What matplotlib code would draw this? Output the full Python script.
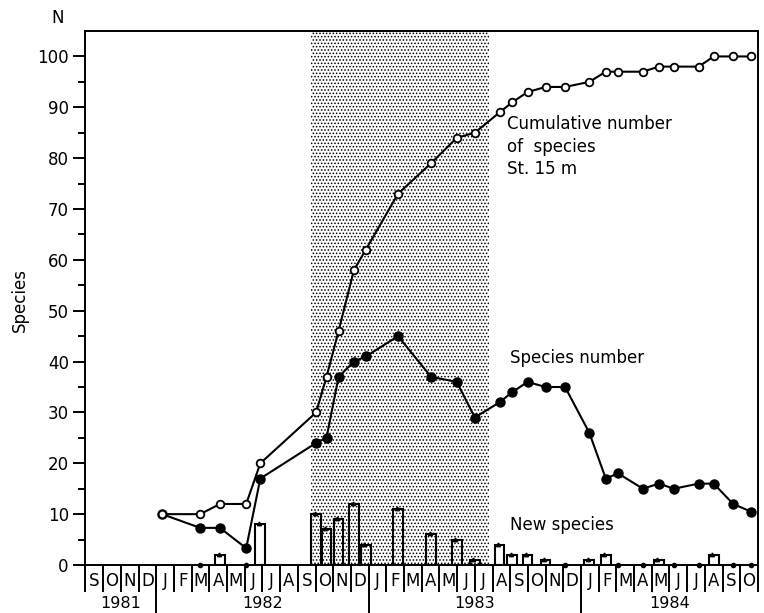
import numpy as np
import matplotlib.pyplot as plt

# month strip under the axis, Sept 1981 .. Oct 1984
months = ['S', 'O', 'N', 'D',
          'J', 'F', 'M', 'A', 'M', 'J', 'J', 'A', 'S', 'O', 'N', 'D',
          'J', 'F', 'M', 'A', 'M', 'J', 'J', 'A', 'S', 'O', 'N', 'D',
          'J', 'F', 'M', 'A', 'M', 'J', 'J', 'A', 'S', 'O']
years = ['1981', '1982', '1983', '1984']
months_per_year = [4, 12, 12, 10]

# sampling dates in months after 1 Sept 1981
sample_month = [4.33, 6.48, 7.6, 9.08, 9.88, 13.03, 13.62, 14.3, 15.17, 15.84,
                17.66, 19.53, 20.98, 22.0, 23.4, 24.12, 24.98, 26.0, 27.1, 28.47,
                29.4, 30.1, 31.5, 32.4, 33.25, 34.65, 35.5, 36.6, 37.6]
cumulative = [10, 10, 12, 12, 20, 30, 37, 46, 58, 62,
              73, 79, 84, 85, 89, 91, 93, 94, 94, 95,
              97, 97, 97, 98, 98, 98, 100, 100, 100]
species_number = [10, 7.3, 7.3, 3.3, 17, 24, 25, 37, 40, 41,
                  45, 37, 36, 29, 32, 34, 36, 35, 35, 26,
                  17, 18, 15, 16, 15, 16, 16, 12, 10.5]
new_species = [np.nan, 0, 2, 0, 8, 10, 7, 9, 12, 4,
               11, 6, 5, 1, 4, 2, 2, 1, 0, 1,
               2, 0, 0, 1, 0, 0, 2, 0, 0]

# shaded period (months after 1 Sept 1981)
shade_start = 12.75
shade_end = 22.8


def draw_month_strip(ax):
    n = len(months)
    ax.set_xticks(np.arange(n) + 0.5)
    ax.set_xticklabels(months)
    ax.tick_params(axis='x', length=0, pad=5, labelsize=12)
    ax.vlines(np.arange(n + 1), -5.3, 0, color='black', lw=1.4, clip_on=False)

    edges = np.concatenate([[0], np.cumsum(months_per_year)])
    ax.vlines(edges[1:-1], -9.6, 0, color='black', lw=1.4, clip_on=False)
    for i, yr in enumerate(years):
        ax.text((edges[i] + edges[i + 1]) / 2, -7.5, yr, ha='center', va='center',
                fontsize=11.5)


if __name__ == '__main__':
    plt.rcParams['hatch.linewidth'] = 0.7
    fig = plt.figure(figsize=(7.64, 6.13), dpi=100)
    ax = fig.add_axes([0.1119, 0.0783, 0.8802, 0.8711])

    ax.axvspan(shade_start, shade_end, facecolor='none', edgecolor='black',
               hatch='.....', linewidth=0, zorder=0)

    x = np.array(sample_month)
    new = np.array(new_species)
    has_bar = new > 0
    ax.bar(x[has_bar], new[has_bar], width=0.55, facecolor='none', edgecolor='black',
           linewidth=1.5, zorder=2)
    ax.plot(x[has_bar] - 0.08, new[has_bar], 'k', ls='none', marker=(3, 0, 0), ms=3.5,
            zorder=3)
    ax.plot(x[new == 0], new[new == 0], 'k.', ms=6, clip_on=False, zorder=3)

    ax.plot(x, species_number, '-o', color='black', mfc='black', ms=6.5, lw=1.5, zorder=4)
    ax.plot(x, cumulative, '-o', color='black', mfc='white', mec='black', ms=5.5,
            mew=1.3, lw=1.5, zorder=5)

    ax.set_xlim(0, len(months))
    ax.set_ylim(0, 105)
    ax.set_yticks(range(0, 101, 10))
    ax.set_yticks(range(5, 101, 10), minor=True)
    ax.tick_params(axis='y', which='major', length=9, width=1.4, labelsize=12, pad=3)
    ax.tick_params(axis='y', which='minor', length=5, width=1.4)
    for s in ax.spines.values():
        s.set_linewidth(1.4)

    draw_month_strip(ax)

    ax.text(23.84, 88.4, 'Cumulative number\nof  species\nSt. 15 m', ha='left', va='top',
            fontsize=12, linespacing=1.3)
    ax.text(24.0, 40.8, 'Species number', ha='left', va='center', fontsize=12)
    ax.text(24.0, 7.9, 'New species', ha='left', va='center', fontsize=12)

    fig.text(20 / 764, 1 - 300 / 613, 'Species', rotation=90, ha='center', va='center',
             fontsize=12)
    fig.text(58 / 764, 1 - 18 / 613, 'N', ha='center', va='center', fontsize=12)

    fig.savefig('out.png', dpi=100)
